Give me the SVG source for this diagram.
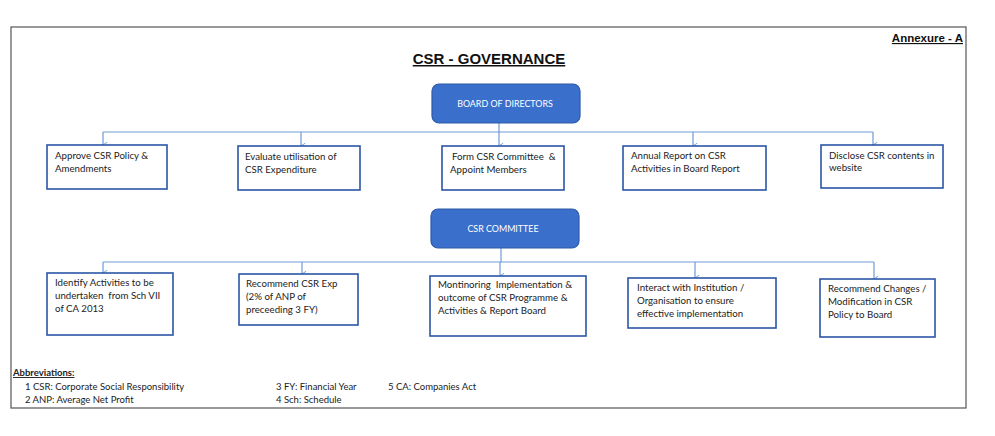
<svg xmlns="http://www.w3.org/2000/svg" width="995" height="436" viewBox="0 0 995 436">
<defs>
<style>
.frame{fill:none;stroke:#555;stroke-width:1.2}
.head{fill:#3a6fcc;stroke:#2c5aa8;stroke-width:1.2}
.headt{font-family:Lato,"Liberation Sans",sans-serif;font-size:8.9px;fill:#fff;text-anchor:middle}
.box{fill:#fff;stroke:#2b56a6;stroke-width:1.6}
.t{font-family:Lato,"Liberation Sans",sans-serif;font-size:9.7px;fill:#222;white-space:pre}
.ab{font-family:Lato,"Liberation Sans",sans-serif;font-size:9.5px;fill:#222}
.conn{fill:none;stroke:#6f9bd8;stroke-width:1.2}
</style>
<marker id="arr" viewBox="0 0 10 10" refX="5" refY="9" markerWidth="7" markerHeight="7" orient="auto-start-reverse" markerUnits="userSpaceOnUse">
<path d="M1,3 L5,9 L9,3" fill="none" stroke="#6f9bd8" stroke-width="1.4"/>
</marker>
</defs>
<rect width="995" height="436" fill="#fff"/>
<rect x="11" y="27" width="955" height="381" class="frame"/>
<text x="963" y="42" font-family="'Liberation Sans',Arial,sans-serif" font-size="11.5" font-weight="bold" text-anchor="end" text-decoration="underline" fill="#111">Annexure - A</text>
<text x="489" y="64" font-family="'Liberation Sans',Arial,sans-serif" font-size="15" font-weight="bold" text-anchor="middle" text-decoration="underline" fill="#111">CSR - GOVERNANCE</text>

<g id="connectors">
<path class="conn" d="M499,123 V132"/>
<path class="conn" d="M103,132 H873"/>
<path class="conn" d="M103,132 V145" marker-end="url(#arr)"/>
<path class="conn" d="M301,132 V146" marker-end="url(#arr)"/>
<path class="conn" d="M499,132 V146" marker-end="url(#arr)"/>
<path class="conn" d="M693,132 V146" marker-end="url(#arr)"/>
<path class="conn" d="M873,132 V145" marker-end="url(#arr)"/>
<path class="conn" d="M501,248 V262"/>
<path class="conn" d="M103,262 H874"/>
<path class="conn" d="M103,262 V273" marker-end="url(#arr)"/>
<path class="conn" d="M302,262 V274" marker-end="url(#arr)"/>
<path class="conn" d="M500,262 V276" marker-end="url(#arr)"/>
<path class="conn" d="M695,262 V278" marker-end="url(#arr)"/>
<path class="conn" d="M874,262 V279" marker-end="url(#arr)"/>
</g>

<g id="board">
<rect x="432" y="84" width="148" height="39" rx="7" class="head"/>
<text x="505" y="107" class="headt">BOARD OF DIRECTORS</text>
</g>
<g id="b1">
<rect x="47" y="145" width="120" height="44" class="box"/>
<text class="t" x="55" y="159">Approve CSR Policy &amp;</text>
<text class="t" x="55" y="172">Amendments</text>
</g>
<g id="b2">
<rect x="238" y="146" width="122" height="44" class="box"/>
<text class="t" x="245" y="160">Evaluate utilisation of</text>
<text class="t" x="245" y="173">CSR Expenditure</text>
</g>
<g id="b3">
<rect x="442" y="146" width="122" height="44" class="box"/>
<text class="t" x="452" y="160">Form CSR Committee  &amp;</text>
<text class="t" x="450" y="173">Appoint Members</text>
</g>
<g id="b4">
<rect x="623" y="146" width="143" height="44" class="box"/>
<text class="t" x="631" y="159">Annual Report on CSR</text>
<text class="t" x="631" y="172">Activities in Board Report</text>
</g>
<g id="b5">
<rect x="821" y="145" width="122" height="43" class="box"/>
<text class="t" x="829" y="159">Disclose CSR contents in</text>
<text class="t" x="829" y="171">website</text>
</g>

<g id="committee">
<rect x="431" y="209" width="148" height="39" rx="7" class="head"/>
<text x="503" y="232" class="headt">CSR COMMITTEE</text>
</g>
<g id="c1">
<rect x="47" y="273" width="126" height="62" class="box"/>
<text class="t" x="55" y="286">Identify Activities to be</text>
<text class="t" x="55" y="299">undertaken  from Sch VII</text>
<text class="t" x="55" y="312">of CA 2013</text>
</g>
<g id="c2">
<rect x="239" y="274" width="119" height="51" class="box"/>
<text class="t" x="246" y="287">Recommend CSR Exp</text>
<text class="t" x="246" y="300">(2% of ANP of</text>
<text class="t" x="246" y="313">preceeding 3 FY)</text>
</g>
<g id="c3">
<rect x="430" y="276" width="156" height="60" class="box"/>
<text class="t" x="438" y="288">Montinoring  Implementation &amp;</text>
<text class="t" x="438" y="301">outcome of CSR Programme &amp;</text>
<text class="t" x="438" y="314">Activities &amp; Report Board</text>
</g>
<g id="c4">
<rect x="628" y="278" width="148" height="50" class="box"/>
<text class="t" x="637" y="291">Interact with Institution /</text>
<text class="t" x="637" y="304">Organisation to ensure</text>
<text class="t" x="637" y="317">effective implementation</text>
</g>
<g id="c5">
<rect x="820" y="279" width="115" height="58" class="box"/>
<text class="t" x="828" y="292">Recommend Changes /</text>
<text class="t" x="828" y="305">Modification in CSR</text>
<text class="t" x="828" y="318">Policy to Board</text>
</g>

<g id="abbreviations">
<text class="ab" x="13" y="376" font-weight="bold" text-decoration="underline">Abbreviations:</text>
<text class="ab" x="25" y="390">1 CSR: Corporate Social Responsibility</text>
<text class="ab" x="25" y="403">2 ANP: Average Net Profit</text>
<text class="ab" x="276" y="390">3 FY: Financial Year</text>
<text class="ab" x="276" y="403">4 Sch: Schedule</text>
<text class="ab" x="388" y="390">5 CA: Companies Act</text>
</g>
</svg>
